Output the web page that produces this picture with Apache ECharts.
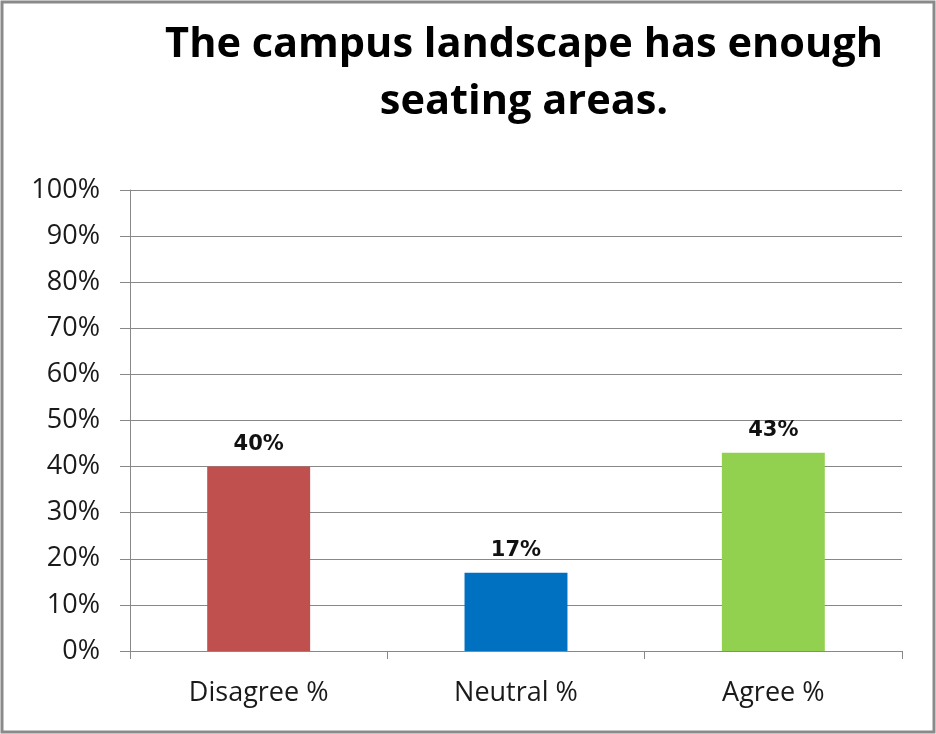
<!DOCTYPE html>
<html>
<head>
<meta charset="utf-8">
<script src="https://cdn.jsdelivr.net/npm/echarts@6/dist/echarts.min.js"></script>
<style>
html,body{margin:0;padding:0;background:#fff;}
#chart{width:936px;height:734px;}
</style>
</head>
<body>
<div id="chart"></div>
<script>
const titleText = "The campus landscape has enough\nseating areas.";
const categories = ["Disagree %", "Neutral %", "Agree %"];
const values = [40, 17, 43];
const barColors = ["#C0504D", "#0070C0", "#92D050"];
const yTicks = [0, 10, 20, 30, 40, 50, 60, 70, 80, 90, 100];

const chart = echarts.init(document.getElementById('chart'), null, {renderer: 'canvas'});
chart.setOption({
  animation: false,
  backgroundColor: '#fff',
  graphic: [{
    type: 'rect',
    shape: {x: 2, y: 2, width: 932, height: 730},
    style: {fill: 'none', stroke: '#8a8a8a', lineWidth: 3},
    silent: true, z: 100
  }],
  title: {
    text: titleText,
    left: 519, top: 12,
    textAlign: 'center',
    textStyle: {fontFamily: 'Open Sans', fontWeight: 'bold', fontSize: 41.5, lineHeight: 57, color: '#000'}
  },
  grid: {left: 130, right: 34, top: 190, bottom: 83},
  xAxis: {
    type: 'category',
    data: categories,
    axisLine: {lineStyle: {color: '#888', width: 1}},
    axisTick: {show: true, length: 8, alignWithLabel: false, lineStyle: {color: '#888'}},
    axisLabel: {fontFamily: 'Open Sans', fontSize: 27, color: '#1a1a1a', margin: 29}
  },
  yAxis: {
    type: 'value',
    min: 0, max: 100, interval: 10,
    axisLine: {show: true, lineStyle: {color: '#888', width: 1}},
    axisTick: {show: true, length: 10, inside: false, lineStyle: {color: '#888'}},
    splitLine: {lineStyle: {color: '#888', width: 1}},
    axisLabel: {
      fontFamily: 'Open Sans', fontSize: 27, color: '#1a1a1a', margin: 30,
      formatter: function (v) { return yTicks.indexOf(v) >= 0 ? v + '%' : ''; }
    }
  },
  series: [{
    type: 'bar',
    barWidth: '40%',
    data: values.map((v, i) => ({value: v, itemStyle: {color: barColors[i]}})),
    label: {
      show: true, position: 'top', distance: 12,
      formatter: '{c}%',
      fontFamily: 'DejaVu Sans', fontWeight: 'bold', fontSize: 21, color: '#111'
    }
  }]
});
</script>
</body>
</html>
